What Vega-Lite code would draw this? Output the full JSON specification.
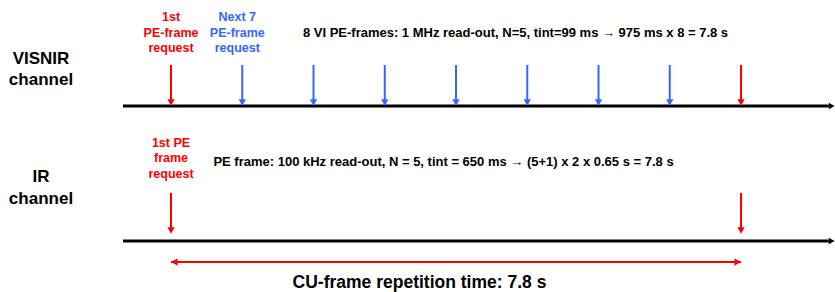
{
  "$schema": "https://vega.github.io/schema/vega-lite/v6.json",
  "autosize": {"type": "fit", "contains": "padding"},
  "width": 835,
  "height": 292,
  "padding": 0,
  "background": "white",
  "config": {"view": {"stroke": null}},
  "datasets": {
    "timelines": [
      {"channel": "VISNIR", "t1": -0.657, "t2": 9.0, "y": 106},
      {"channel": "IR", "t1": -0.657, "t2": 9.0, "y": 241}
    ],
    "requests": [
      {"channel": "VISNIR", "t": 0, "kind": "first", "y1": 65, "y2": 102.5},
      {"channel": "VISNIR", "t": 0.975, "kind": "next", "y1": 65, "y2": 102.5},
      {"channel": "VISNIR", "t": 1.95, "kind": "next", "y1": 65, "y2": 102.5},
      {"channel": "VISNIR", "t": 2.925, "kind": "next", "y1": 65, "y2": 102.5},
      {"channel": "VISNIR", "t": 3.9, "kind": "next", "y1": 65, "y2": 102.5},
      {"channel": "VISNIR", "t": 4.875, "kind": "next", "y1": 65, "y2": 102.5},
      {"channel": "VISNIR", "t": 5.85, "kind": "next", "y1": 65, "y2": 102.5},
      {"channel": "VISNIR", "t": 6.825, "kind": "next", "y1": 65, "y2": 102.5},
      {"channel": "VISNIR", "t": 7.8, "kind": "first", "y1": 65, "y2": 102.5},
      {"channel": "IR", "t": 0, "kind": "first", "y1": 193, "y2": 230.5},
      {"channel": "IR", "t": 7.8, "kind": "first", "y1": 193, "y2": 230.5}
    ],
    "cu": [{"t1": 0, "t2": 7.8, "y": 262}],
    "cuHeads": [
      {"t": 0.046, "y": 262, "dir": "left"},
      {"t": 7.754, "y": 262, "dir": "right"}
    ],
    "channelLabels": [
      {"text": "VISNIR", "t": -1.779, "y": 59},
      {"text": "channel", "t": -1.779, "y": 80},
      {"text": "IR", "t": -1.779, "y": 177},
      {"text": "channel", "t": -1.779, "y": 199}
    ],
    "requestLabels": [
      {"text": "1st", "t": 0, "y": 17, "kind": "first"},
      {"text": "PE-frame", "t": 0, "y": 32.5, "kind": "first"},
      {"text": "request", "t": 0, "y": 48, "kind": "first"},
      {"text": "Next 7", "t": 0.907, "y": 17, "kind": "next"},
      {"text": "PE-frame", "t": 0.907, "y": 32.5, "kind": "next"},
      {"text": "request", "t": 0.907, "y": 48, "kind": "next"},
      {"text": "1st PE", "t": 0, "y": 143, "kind": "first"},
      {"text": "frame", "t": 0, "y": 158, "kind": "first"},
      {"text": "request", "t": 0, "y": 174, "kind": "first"}
    ],
    "descriptions": [
      {"text": "8 VI PE-frames: 1 MHz read-out, N=5, tint=99 ms → 975 ms x 8 = 7.8 s", "t": 4.714, "y": 32.5},
      {"text": "PE frame: 100 kHz read-out, N = 5, tint = 650 ms → (5+1) x 2 x 0.65 s = 7.8 s", "t": 3.729, "y": 162}
    ],
    "cuLabel": [{"text": "CU-frame repetition time: 7.8 s", "t": 3.40, "y": 283}]
  },
  "layer": [
    {
      "data": {"name": "timelines"},
      "mark": {"type": "rule", "color": "black", "strokeWidth": 3},
      "encoding": {
        "x": {"field": "t1", "type": "quantitative", "scale": {"domain": [-2.34, 9.086], "nice": false, "zero": false}, "axis": null},
        "x2": {"field": "t2"},
        "y": {"field": "y", "type": "quantitative", "scale": {"domain": [0, 292], "reverse": true, "nice": false, "zero": false}, "axis": null}
      }
    },
    {
      "data": {"name": "timelines"},
      "mark": {"type": "point", "shape": "triangle-right", "filled": true, "color": "black", "size": 45, "opacity": 1},
      "encoding": {
        "x": {"datum": 9.04, "type": "quantitative"},
        "y": {"field": "y", "type": "quantitative"}
      }
    },
    {
      "data": {"name": "requests"},
      "mark": {"type": "rule", "strokeWidth": 2},
      "encoding": {
        "x": {"field": "t", "type": "quantitative"},
        "y": {"field": "y1", "type": "quantitative"},
        "y2": {"field": "y2"},
        "color": {"field": "kind", "type": "nominal", "scale": {"domain": ["first", "next"], "range": ["#ff0000", "#3366ff"]}, "legend": null}
      }
    },
    {
      "data": {"name": "requests"},
      "mark": {"type": "point", "shape": "triangle-down", "filled": true, "size": 55, "opacity": 1},
      "encoding": {
        "x": {"field": "t", "type": "quantitative"},
        "y": {"field": "y2", "type": "quantitative"},
        "color": {"field": "kind", "type": "nominal", "legend": null}
      }
    },
    {
      "data": {"name": "cu"},
      "mark": {"type": "rule", "color": "#ff0000", "strokeWidth": 2},
      "encoding": {
        "x": {"field": "t1", "type": "quantitative"},
        "x2": {"field": "t2"},
        "y": {"field": "y", "type": "quantitative"}
      }
    },
    {
      "data": {"name": "cuHeads"},
      "mark": {"type": "point", "filled": true, "color": "#ff0000", "size": 55, "opacity": 1},
      "encoding": {
        "x": {"field": "t", "type": "quantitative"},
        "y": {"field": "y", "type": "quantitative"},
        "shape": {"field": "dir", "type": "nominal", "scale": {"domain": ["left", "right"], "range": ["triangle-left", "triangle-right"]}, "legend": null}
      }
    },
    {
      "data": {"name": "channelLabels"},
      "mark": {"type": "text", "font": "Liberation Sans", "fontWeight": "bold", "fontSize": 17, "color": "black", "align": "center", "baseline": "middle"},
      "encoding": {
        "x": {"field": "t", "type": "quantitative"},
        "y": {"field": "y", "type": "quantitative"},
        "text": {"field": "text"}
      }
    },
    {
      "data": {"name": "requestLabels"},
      "mark": {"type": "text", "font": "Liberation Sans", "fontWeight": "bold", "fontSize": 12.5, "align": "center", "baseline": "middle"},
      "encoding": {
        "x": {"field": "t", "type": "quantitative"},
        "y": {"field": "y", "type": "quantitative"},
        "text": {"field": "text"},
        "color": {"field": "kind", "type": "nominal", "legend": null}
      }
    },
    {
      "data": {"name": "descriptions"},
      "mark": {"type": "text", "font": "Liberation Sans", "fontWeight": "bold", "fontSize": 13, "color": "black", "align": "center", "baseline": "middle"},
      "encoding": {
        "x": {"field": "t", "type": "quantitative"},
        "y": {"field": "y", "type": "quantitative"},
        "text": {"field": "text"}
      }
    },
    {
      "data": {"name": "cuLabel"},
      "mark": {"type": "text", "font": "Liberation Sans", "fontWeight": "bold", "fontSize": 17.5, "color": "black", "align": "center", "baseline": "middle"},
      "encoding": {
        "x": {"field": "t", "type": "quantitative"},
        "y": {"field": "y", "type": "quantitative"},
        "text": {"field": "text"}
      }
    }
  ]
}
